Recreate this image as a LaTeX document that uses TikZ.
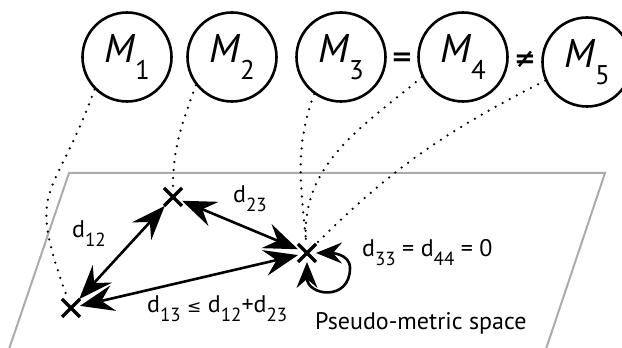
\documentclass[tikz,border=0pt]{standalone}
\usepackage{fontspec}
\setmainfont{PT Sans}
\newfontfamily\symfont{DejaVu Sans}
\usetikzlibrary{arrows.meta,shapes.misc}
\newcommand\lowsub[1]{\raisebox{-0.36em}{\fontsize{19}{19}\selectfont #1}}
\newcommand\bigsub[1]{\raisebox{-0.42em}{\fontsize{27}{27}\selectfont #1}}
\begin{document}
\begin{tikzpicture}[x=1pt,y=1pt,
  mcircle/.style={circle, draw, line width=2.6pt, minimum size=89pt, inner sep=0pt, font=\fontsize{40}{44}\selectfont},
  xmark/.style={cross out, draw, line width=3.4pt, minimum size=10pt, inner sep=0pt, outer sep=4pt},
  dbl/.style={line width=2.6pt, {Stealth[length=34pt,width=26pt,inset=12pt]}-{Stealth[length=34pt,width=26pt,inset=12pt]}},
  loopy/.style={line width=2.6pt, {Stealth[length=26pt,width=21pt,inset=9pt]}-{Stealth[length=26pt,width=21pt,inset=9pt]}},
  dots/.style={line width=2.5pt, line cap=round, dash pattern=on 0pt off 8pt},
  plane/.style={draw=black!33, line width=2pt},
  rel/.style={font=\symfont\bfseries\fontsize{26}{30}\selectfont, inner sep=0pt},
  lbl/.style={font=\fontsize{24}{28}\selectfont, inner sep=0pt, anchor=base west}]
\useasboundingbox (0,0) rectangle (622,348);
\clip (0,0) rectangle (622,348);
\draw[plane] (6,-10) -- (69,175) -- (605,175) -- (543,-10);
% models
\node[mcircle] (m1) at (127,291) {\textit{M}\bigsub{1}};
\node[mcircle] (m2) at (232,291) {\textit{M}\bigsub{2}};
\node[mcircle] (m3) at (341,291) {\textit{M}\bigsub{3}};
\node[mcircle] (m4) at (463,291) {\textit{M}\bigsub{4}};
\node[mcircle] (m5) at (587,286) {\textit{M}\bigsub{5}};
\node[rel] (eq) at (402,289) {=};
\node[rel] (ne) at (525,289) {≠};
% points
\node[xmark] (x1) at (71,40) {};
\node[xmark] (x2) at (173,151) {};
\node[xmark] (x3) at (307,95) {};
\coordinate (lp) at (350,80);
% dotted correspondences
\draw[dots] (m1.225) to[out=250,in=110,looseness=1.5] (x1);
\draw[dots] (m2.218) to[out=250,in=90] (x2);
\draw[dots] (m3.234) to[out=250,in=95] (x3);
\draw[dots] (m4.206) to[out=220,in=95] (x3);
\draw[dots] (m5.204) to[out=207,in=45] (x3);
% distances
\draw[dbl] (x1) -- (x2);
\draw[dbl] (x2) -- (x3);
\draw[dbl] (x1) -- (x3);
\draw[loopy] (x3) to[out=0,in=90] (lp) to[out=-90,in=-90,looseness=2] (x3);
% labels
\node[lbl] (l12) at (72,110) {d\lowsub{12}};
\node[lbl] (l23) at (233,145) {d\lowsub{23}};
\node[lbl] (l33) at (362,91) {d\lowsub{33} = d\lowsub{44} = 0};
\node[lbl] (l13) at (147,35) {d\lowsub{13} {\symfont\fontsize{17}{17}\selectfont ≤} d\lowsub{12}+d\lowsub{23}};
\node[lbl] (lps) at (315,18) {Pseudo-metric space};
\end{tikzpicture}
\end{document}
